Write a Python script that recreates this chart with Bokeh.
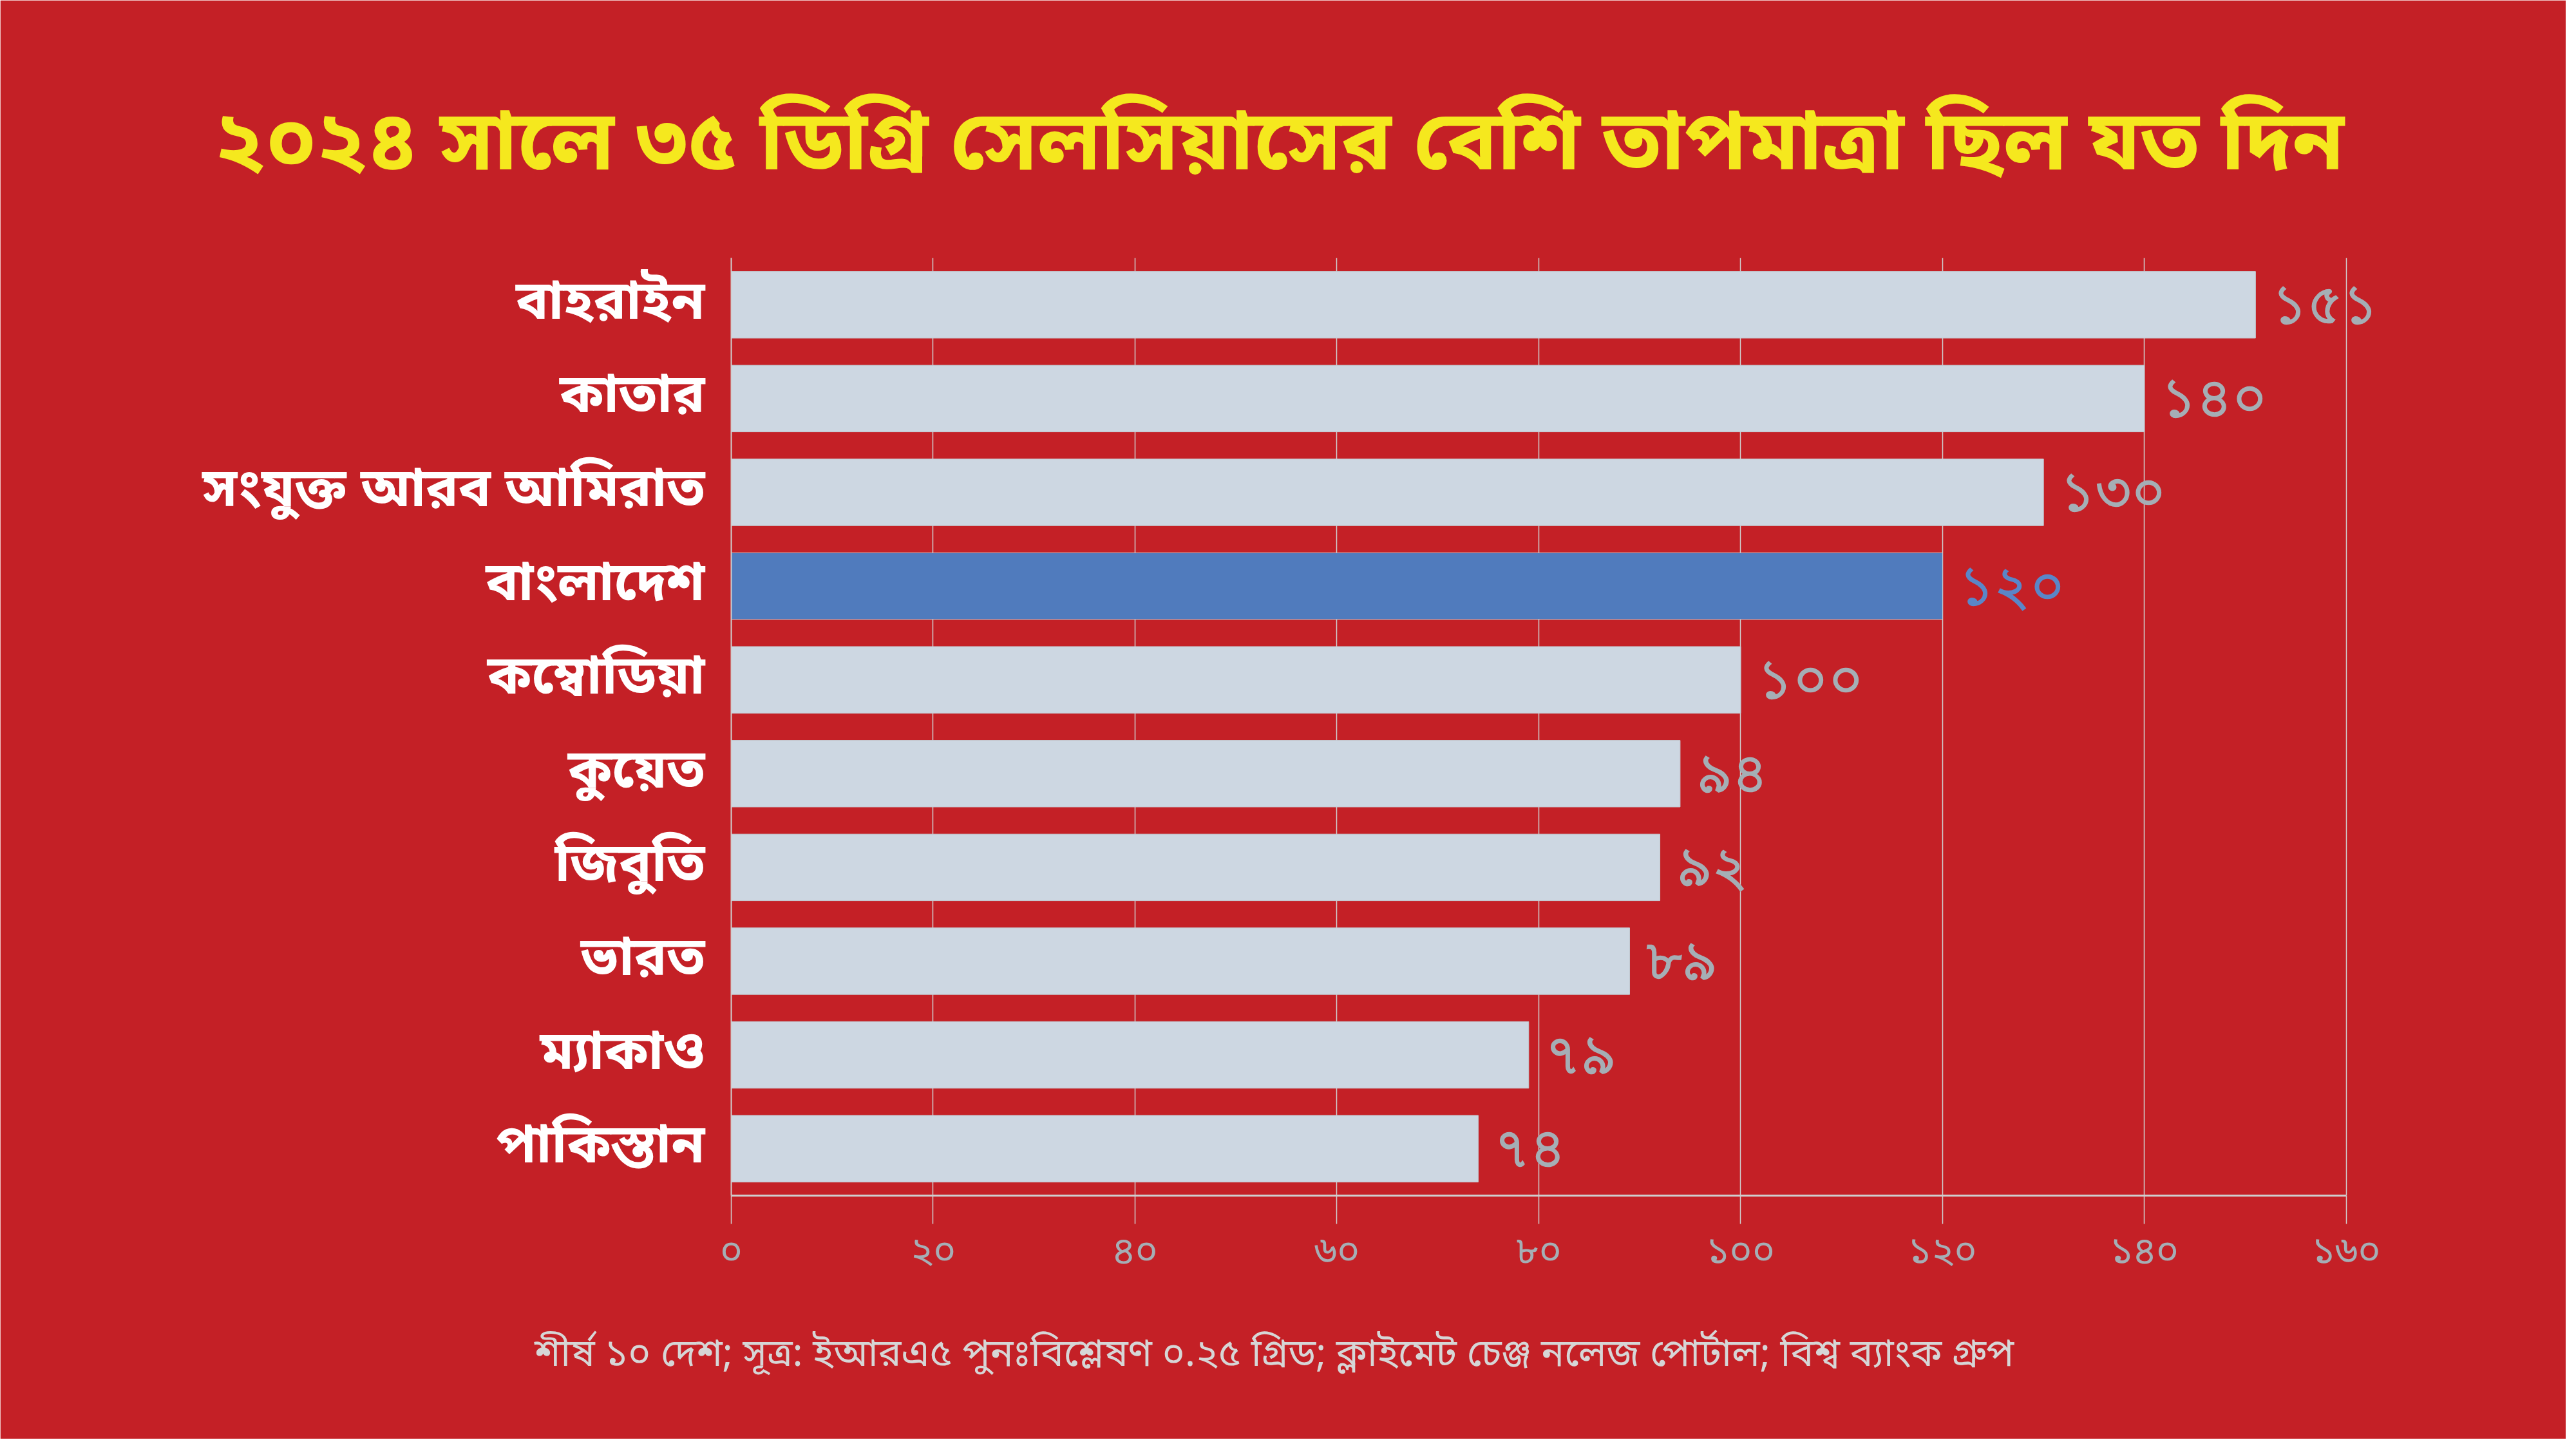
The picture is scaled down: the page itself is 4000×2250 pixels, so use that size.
from bokeh.plotting import figure
from bokeh.models import FactorRange, Range1d, FixedTicker, Title, ColumnDataSource
from bokeh.embed import file_html
from bokeh.resources import INLINE

# data
countries = ["বাহরাইন", "কাতার", "সংযুক্ত আরব আমিরাত", "বাংলাদেশ", "কম্বোডিয়া",
             "কুয়েত", "জিবুতি", "ভারত", "ম্যাকাও", "পাকিস্তান"]
days = [151, 140, 130, 120, 100, 94, 92, 89, 79, 74]
highlight = "বাংলাদেশ"
x_ticks = [0, 20, 40, 60, 80, 100, 120, 140, 160]

title_text = "২০২৪ সালে ৩৫ ডিগ্রি সেলসিয়াসের বেশি তাপমাত্রা ছিল যত দিন"
note_text = "শীর্ষ ১০ দেশ; সূত্র: ইআরএ৫ পুনঃবিশ্লেষণ ০.২৫ গ্রিড; ক্লাইমেট চেঞ্জ নলেজ পোর্টাল; বিশ্ব ব্যাংক গ্রুপ"

BN = str.maketrans("0123456789", "০১২৩৪৫৬৭৮৯")


def bn(n):
    return str(n).translate(BN)


BG = "#c42026"
FONT = "'Noto Sans Bengali', 'Noto Sans', sans-serif"
X_MAX = 172  # room on the right for the value labels

fill = ["#507bbd" if c == highlight else "#cdd7e2" for c in countries]
lab_col = ["#5a86c8" if c == highlight else "#a5aeb5" for c in countries]
src = ColumnDataSource(dict(y=countries, x=days, fill=fill, lab=[bn(d) for d in days], lab_col=lab_col))

W, H = 3984, 2234
LEFT = 1135
p = figure(width=W, height=H, output_backend="svg", toolbar_location=None,
           y_range=FactorRange(factors=countries[::-1], range_padding=0),
           x_range=Range1d(0, X_MAX),
           min_border_left=LEFT, min_border_right=153, min_border_top=400, min_border_bottom=378)
p.background_fill_color = BG
p.border_fill_color = BG
# hide the thin seam between frame and border
p.outline_line_color = BG
p.outline_line_width = 3

p.hbar(y="y", right="x", left=0, height=0.71, fill_color="fill", line_color="#c3cbd3",
       line_width=1, source=src)
p.text(x="x", y="y", text="lab", text_color="lab_col", x_offset=26, text_align="left",
       text_baseline="middle", text_font_size="84px", text_font=FONT, text_font_style="bold",
       source=src)

p.ygrid.grid_line_color = None
p.xgrid.grid_line_color = "#cfcfcf"
p.xgrid.grid_line_width = 1.5
p.xgrid.bounds = (0, 160)

p.xaxis.ticker = FixedTicker(ticks=x_ticks)
p.xaxis.bounds = (0, 160)
p.xaxis.major_label_overrides = {t: bn(t) for t in x_ticks}
p.xaxis.axis_line_color = "#cfcfcf"
p.xaxis.axis_line_width = 3
p.xaxis.major_tick_in = 0
p.xaxis.major_tick_out = 44
p.xaxis.major_tick_line_color = "#cfcfcf"
p.xaxis.major_tick_line_width = 1.5
p.xaxis.minor_tick_line_color = None
p.xaxis.major_label_text_color = "#a5aeb5"
p.xaxis.major_label_text_font_size = "60px"
p.xaxis.major_label_text_font = FONT
p.xaxis.major_label_standoff = 6

p.yaxis.axis_line_color = "#cfcfcf"
p.yaxis.axis_line_width = 2
p.yaxis.major_tick_line_color = None
p.yaxis.minor_tick_line_color = None
p.yaxis.major_label_text_color = "white"
p.yaxis.major_label_text_font_size = "84px"
p.yaxis.major_label_text_font = FONT
p.yaxis.major_label_text_font_style = "bold"
p.yaxis.major_label_standoff = 35

# titles are left-aligned with a negative offset so that they sit centred on the page
p.title = Title(text=title_text, align="left", offset=340 - (LEFT + 8),
                text_color="#f5e81e", text_font_size="130px", text_font=FONT,
                text_font_style="bold", standoff=170)
p.add_layout(Title(text=note_text, align="left", offset=837 - (LEFT + 8),
                   text_color="#d6d6d6", text_font_size="60px", text_font=FONT,
                   text_font_style="normal", standoff=150), "below")

open("out.html", "w").write(file_html(p, INLINE))
